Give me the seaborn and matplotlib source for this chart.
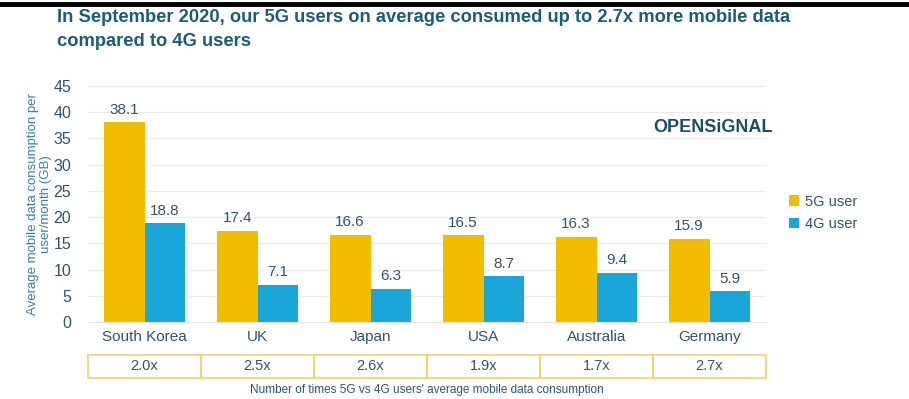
import matplotlib
matplotlib.use("Agg")
import matplotlib.pyplot as plt
import matplotlib.transforms as mtrans
from matplotlib.patches import Rectangle, Patch
from matplotlib.lines import Line2D
import seaborn as sns
import pandas as pd

countries = ["South Korea", "UK", "Japan", "USA", "Australia", "Germany"]
users_5g = [38.1, 17.4, 16.6, 16.5, 16.3, 15.9]
users_4g = [18.8, 7.1, 6.3, 8.7, 9.4, 5.9]
ratios = ["2.0x", "2.5x", "2.6x", "1.9x", "1.7x", "2.7x"]
series_names = ["5G user", "4G user"]
yticks = [0, 5, 10, 15, 20, 25, 30, 35, 40, 45]

C5 = "#F2BC00"
C4 = "#1BA6DA"
TXT = "#2F5570"
TITLE = "#1B5C78"

df = pd.DataFrame({
    "country": countries * 2,
    "value": users_5g + users_4g,
    "user": [series_names[0]] * len(countries) + [series_names[1]] * len(countries),
})

sns.set_theme(style="white")
plt.rcParams["font.family"] = ["Liberation Sans", "DejaVu Sans"]

fig = plt.figure(figsize=(9.09, 3.99), dpi=100)
fig.patch.set_facecolor("white")
ax = fig.add_axes([88 / 909, (399 - 322) / 399, (766 - 88) / 909, (322 - 86) / 399])

sns.barplot(data=df, x="country", y="value", hue="user", order=countries,
            hue_order=series_names, palette=[C5, C4], saturation=1,
            width=0.72, gap=0, ax=ax, legend=False, errorbar=None,
            linewidth=0, edgecolor="none")

ax.set_xlim(-0.5, 5.5)
ax.set_ylim(0, 45)
ax.set_yticks(yticks)
ax.set_yticklabels([str(t) for t in yticks], fontsize=11.5, color=TXT)
ax.tick_params(axis="y", length=0, pad=12)
ax.tick_params(axis="x", length=0, pad=6, labelsize=11, labelcolor=TXT)
ax.set_xlabel("")
ax.set_ylabel("Average mobile data consumption per\nuser/month (GB)",
              fontsize=9.5, color="#3A7FA5", labelpad=1, linespacing=1.15)
ax.yaxis.grid(True, color="#EBEBEB", linewidth=0.8)
ax.set_axisbelow(True)
for s in ["top", "right", "left"]:
    ax.spines[s].set_visible(False)
ax.spines["bottom"].set_color("#E3E3E3")
ax.spines["bottom"].set_linewidth(0.8)

for cont in ax.containers:
    ax.bar_label(cont, fmt="%.1f", padding=4, fontsize=11, color=TXT)

# Ratio table
trans = mtrans.blended_transform_factory(ax.transData, fig.transFigure)
y0 = (399 - 378) / 399
y1 = (399 - 355) / 399
for i, r in enumerate(ratios):
    rect = Rectangle((i - 0.5, y0), 1.0, y1 - y0, transform=trans,
                     fill=False, edgecolor="#F6D170", linewidth=1.2, clip_on=False)
    fig.add_artist(rect)
    fig.text(i, (y0 + y1) / 2, r, transform=trans, ha="center", va="center",
             fontsize=10.5, color=TXT)
fig.text(2.5, (399 - 390) / 399,
         "Number of times 5G vs 4G users' average mobile data consumption",
         transform=trans, ha="center", va="center", fontsize=8.5, color=TXT)

# Title
fig.text(57 / 909, (399 - 18) / 399,
         "In September 2020, our 5G users on average consumed up to 2.7x more mobile data",
         ha="left", va="center", fontsize=13.2, fontweight="bold", color=TITLE)
fig.text(57 / 909, (399 - 42) / 399, "compared to 4G users",
         ha="left", va="center", fontsize=13.2, fontweight="bold", color=TITLE)

# Top black rule
fig.add_artist(Line2D([0, 1], [(399 - 4) / 399] * 2, color="black", linewidth=3.5,
                      transform=fig.transFigure))

# Logo
fig.text(713 / 909, (399 - 128) / 399, "OPENSiGNAL", ha="center", va="center",
         fontsize=13, fontweight="bold", color="#1C4E68")

# Legend
handles = [Patch(facecolor=C5, edgecolor="none"), Patch(facecolor=C4, edgecolor="none")]
leg = fig.legend(handles, series_names, loc="center left",
                 bbox_to_anchor=(776 / 909, (399 - 213) / 399), frameon=False,
                 fontsize=10.5, handlelength=0.7, handleheight=0.7, handletextpad=0.4,
                 labelspacing=0.6)
for t in leg.get_texts():
    t.set_color(TXT)

fig.savefig("out.png", dpi=100, facecolor="white")
